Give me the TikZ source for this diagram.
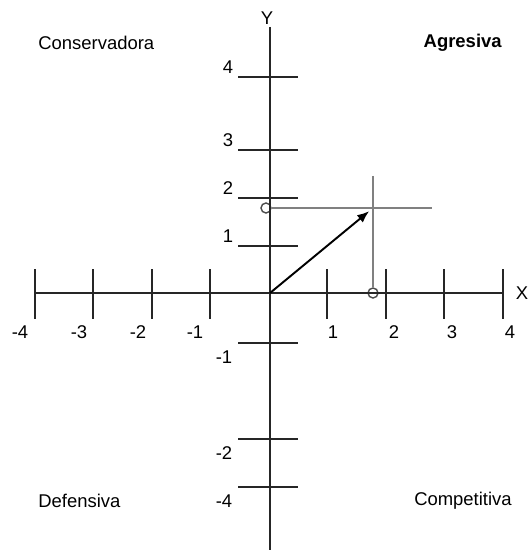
\documentclass[tikz,border=0pt]{standalone}
\usepackage{fontspec}
\setmainfont{Liberation Sans}
\usetikzlibrary{arrows.meta,positioning}

\begin{document}
\begin{tikzpicture}[
    x=0.02cm, y=-0.02cm,
    axis/.style={line width=1.1pt, draw=black!85},
    tickline/.style={line width=1.1pt, draw=black!85},
    guide/.style={line width=0.6pt, draw=gray},
    dot/.style={circle, draw=gray!60!black, line width=0.8pt, minimum size=0.2cm, inner sep=0pt},
    lbl/.style={font=\fontsize{10.5}{12}\selectfont, inner sep=0pt},
    vec/.style={-{Latex[length=2.4mm,width=1.9mm]}, line width=1.1pt, shorten >=0.1cm}
]
\useasboundingbox (0,0) rectangle (528,550);
\coordinate (O) at (270,293);
\coordinate (xl) at (35,293);
\coordinate (xr) at (503,293);
\coordinate (yt) at (270,27);
\coordinate (yb) at (270,550);
\coordinate (P) at (373,208);
\coordinate (gh) at (432,208);
\coordinate (gv) at (373,176);
\node[dot] (py) at (266,208) {};
\node[dot] (px) at (373,293) {};
\draw[guide] (py) -- (gh);
\draw[guide] (gv) -- (px);
\draw[axis] (xl) -- (xr);
\draw[axis] (yt) -- (yb);
\foreach \xx in {35,93,152,210,270,327,386,444,503}
    \draw[tickline] (\xx,269) -- (\xx,319);
\foreach \i/\xx in {-4/20,-3/79,-2/138,-1/195,1/333,2/394,3/452,4/510}
    \node[lbl] (lx\i) at (\xx,332) {\i};
\foreach \v/\yy in {4/77,3/150,2/198,1/246} {
    \draw[tickline] (238,\yy) -- (298,\yy);
    \node[lbl] (ly\v) at (228,\yy-10) {\v};
}
\foreach \v/\yy in {-1/343,-2/439,-4/487} {
    \draw[tickline] (238,\yy) -- (298,\yy);
    \node[lbl] (ly\v) at (224,\yy+14) {\v};
}
\node[lbl] (ylab) at (267,18) {Y};
\node[lbl] (xlab) at (522,293) {X};
\node[lbl, anchor=west] (cons) at (38,43) {Conservadora};
\node[lbl, anchor=east, font=\fontsize{10.5}{12}\selectfont\bfseries] (agr) at (502,43) {Agresiva};
\node[lbl, anchor=west] (def) at (38,501) {Defensiva};
\node[lbl, anchor=east] (comp) at (512,501) {Competitiva};
\draw[vec] (O) -- (P);
\end{tikzpicture}
\end{document}
